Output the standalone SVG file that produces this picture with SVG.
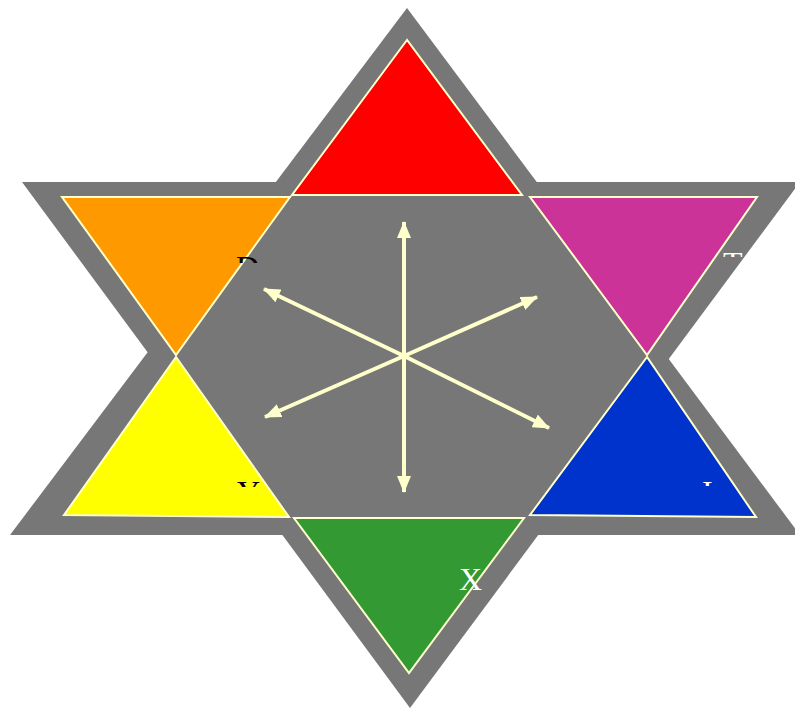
<svg xmlns="http://www.w3.org/2000/svg" width="795" height="709" viewBox="0 0 795 709">
<style>
.star{fill:#777777;stroke:none}
.tri{stroke:#FFFFCC;stroke-width:2;stroke-linejoin:miter}
.arrow{stroke:#FFFFCC;stroke-width:4;fill:none;marker-end:url(#ah)}
.lbl{font-family:"Liberation Serif",serif;font-size:32px}
</style>
<defs>
<marker id="ah" markerUnits="userSpaceOnUse" markerWidth="18" markerHeight="14" refX="16" refY="7" orient="auto">
<path d="M0,0 L17,7 L0,14 z" fill="#FFFFCC"/>
</marker>
<clipPath id="cD"><rect x="230" y="256" width="40" height="7"/></clipPath>
<clipPath id="cT"><rect x="715" y="252" width="40" height="5"/></clipPath>
<clipPath id="cY"><rect x="230" y="481" width="40" height="6"/></clipPath>
<clipPath id="cI"><rect x="695" y="481" width="25" height="5"/></clipPath>
</defs>
<rect width="795" height="709" fill="#ffffff"/>
<g id="star">
<polygon class="star" points="407,8 10,535 800,535"/>
<polygon class="star" points="22,182 800,182 410,708"/>
<polygon class="star" points="290,196 524,196 647,356 527,517 291,517 176,356"/>
</g>
<g id="red"><polygon class="tri" fill="#FF0000" points="407,40 292,195 522,195"/></g>
<g id="orange"><polygon class="tri" fill="#FF9900" points="62,197 290,197 176,355"/></g>
<g id="magenta"><polygon class="tri" fill="#CC3399" points="530,197 757,197 647,355"/></g>
<g id="yellow"><polygon class="tri" fill="#FFFF00" points="176,357 64,515 289,517"/></g>
<g id="blue"><polygon class="tri" fill="#0033CC" points="647,357 530,515 756,517"/></g>
<g id="green"><polygon class="tri" fill="#339933" points="294,518 524,518 409,673"/></g>
<g id="connectors">
<line class="arrow" x1="404" y1="356" x2="404" y2="222"/>
<line class="arrow" x1="404" y1="356" x2="404" y2="492"/>
<line class="arrow" x1="404" y1="356" x2="264" y2="289"/>
<line class="arrow" x1="404" y1="356" x2="549" y2="428"/>
<line class="arrow" x1="404" y1="356" x2="537" y2="297"/>
<line class="arrow" x1="404" y1="356" x2="265" y2="417"/>
</g>
<g id="labels">
<text class="lbl" x="236" y="278" fill="#000000" clip-path="url(#cD)">D</text>
<text class="lbl" x="723" y="274" fill="#ffffff" clip-path="url(#cT)">T</text>
<text class="lbl" x="237" y="503" fill="#000000" clip-path="url(#cY)">Y</text>
<text class="lbl" x="702" y="503" fill="#ffffff" clip-path="url(#cI)">I</text>
<text class="lbl" x="459" y="590" fill="#ffffff">X</text>
</g>
</svg>
